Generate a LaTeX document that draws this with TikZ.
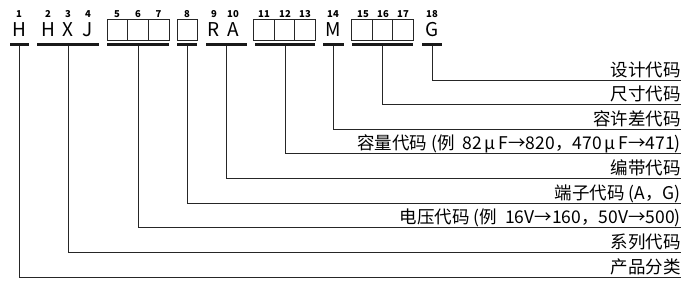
\documentclass[tikz,border=0pt]{standalone}
\usepackage{fontspec}
\setmainfont{Noto Sans CJK SC}
\usetikzlibrary{calc}

\tikzset{
  num/.style={font=\fontsize{9.5}{9.5}\selectfont\bfseries, inner sep=0pt},
  code/.style={font=\fontsize{19}{19}\selectfont, inner sep=0pt},
  cell/.style={draw=black!85, line width=0.9pt, minimum width=20.7pt, minimum height=21pt, inner sep=0pt},
  barnode/.style={fill=black!90, minimum height=2.3pt, inner sep=0pt},
  lead/.style={draw=black!85, line width=0.9pt},
  desc/.style={font=\fontsize{17.5}{18}\selectfont, inner sep=0pt, text depth=3.5pt, anchor=south east},
}

\begin{document}
\begin{tikzpicture}[x=1pt,y=-1pt,line cap=butt,line join=miter]
  \useasboundingbox (0,0) rectangle (691,289);
  % 位序号
  \foreach \x/\n in {19/1,48/2,68/3,88/4,117/5,138/6,158.5/7,187/8,214/9,233/10,
                     264/11,285/12,305/13,333/14,363/15,383/16,403/17,432/18}
    \node[num] (n\n) at (\x,14) {\n};
  % 固定字母
  \node[code] (cH)  at (19,30) {H};
  \node[code] (cH2) at (48,30) {H};
  \node[code] (cX)  at (68,30) {X};
  \node[code] (cJ)  at (88,30) {J};
  \node[code] (cR)  at (214,30) {R};
  \node[code] (cA)  at (233,30) {A};
  \node[code] (cM)  at (333,30) {M};
  \node[code] (cG)  at (432,30) {G};
  % 空格方框
  \node[cell] (b5)  at (117.3,29.5) {};
  \node[cell] (b6)  at (138,29.5) {};
  \node[cell] (b7)  at (158.7,29.5) {};
  \node[cell,minimum width=20pt] (b8) at (187,29.5) {};
  \node[cell] (b11) at (264.2,29.5) {};
  \node[cell] (b12) at (284.5,29.5) {};
  \node[cell] (b13) at (304.8,29.5) {};
  \node[cell] (b15) at (362.2,29.5) {};
  \node[cell] (b16) at (382.5,29.5) {};
  \node[cell] (b17) at (402.8,29.5) {};
  % 下划粗线
  \node[barnode,minimum width=19pt] (g1) at (19.5,44.5) {};
  \node[barnode,minimum width=62pt] (g2) at (68,44.5) {};
  \node[barnode,minimum width=62pt] (g3) at (138,44.5) {};
  \node[barnode,minimum width=20pt] (g4) at (187,44.5) {};
  \node[barnode,minimum width=41pt] (g5) at (226,44.5) {};
  \node[barnode,minimum width=60pt] (g6) at (285,44.5) {};
  \node[barnode,minimum width=21pt] (g7) at (333.5,44.5) {};
  \node[barnode,minimum width=61pt] (g8) at (382.5,44.5) {};
  \node[barnode,minimum width=20pt] (g9) at (432,44.5) {};
  % 说明文字
  \node[desc] (d9) at (681,80)    {设计代码};
  \node[desc] (d8) at (681,104)   {尺寸代码};
  \node[desc] (d7) at (681,129)   {容许差代码};
  \node[desc] (d6) at (681,153.5) {容量代码 (例\ \ 82\,μ\,F→820，470\,μ\,F→471)};
  \node[desc] (d5) at (681,178)   {编带代码};
  \node[desc] (d4) at (681,203)   {端子代码 (A，G)};
  \node[desc] (d3) at (681,227)   {电压代码 (例\ \ 16V→160，50V→500)};
  \node[desc] (d2) at (681,252)   {系列代码};
  \node[desc] (d1) at (681,277)   {产品分类};
  % 引线
  \draw[lead] (g1.south) |- (d1.south east);
  \draw[lead] (g2.south) |- (d2.south east);
  \draw[lead] (g3.south) |- (d3.south east);
  \draw[lead] (g4.south) |- (d4.south east);
  \draw[lead] (g5.south) |- (d5.south east);
  \draw[lead] (g6.south) |- (d6.south east);
  \draw[lead] (g7.south) |- (d7.south east);
  \draw[lead] (g8.south) |- (d8.south east);
  \draw[lead] (g9.south) |- (d9.south east);
\end{tikzpicture}
\end{document}
